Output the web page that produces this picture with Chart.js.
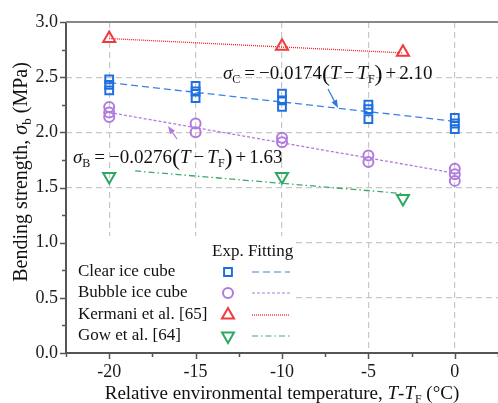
<!DOCTYPE html>
<html>
<head>
<meta charset="utf-8">
<script src="https://cdn.jsdelivr.net/npm/chart.js@4/dist/chart.umd.min.js"></script>
<style>
  html, body { margin: 0; padding: 0; background: #fff; }
</style>
</head>
<body>
<canvas id="grafico" width="498" height="403"></canvas>
<script>
// valores (T - TF em °C, resistencia em MPa)
const tempClear = [-20, -20, -20, -15, -15, -15, -10, -10, -10, -5, -5, -5, 0, 0, 0];
const clearIce = [2.48, 2.43, 2.38, 2.42, 2.37, 2.31, 2.35, 2.29, 2.23, 2.25, 2.21, 2.12, 2.13, 2.08, 2.03];
const tempBubble = [-20, -20, -20, -15, -15, -10, -10, -5, -5, 0, 0, 0];
const bubbleIce = [2.23, 2.18, 2.14, 2.08, 2.00, 1.95, 1.91, 1.79, 1.73, 1.67, 1.62, 1.56];
const tempRef = [-20, -10, -3];
const kermani = [2.85, 2.78, 2.725];
const gow = [1.60, 1.60, 1.40];

// pontas das retas de ajuste
const tempFit = [-20, 0];
const clearFit = [2.45, 2.10];
const bubbleFit = [2.18, 1.63];
const tempKermaniFit = [-20, -3];
const kermaniFit = [2.85, 2.72];
const tempGowFit = [-18.5, -3];
const gowFit = [1.65, 1.445];

// rotulos dos eixos
const xLabels = [-20, -15, -10, -5, 0];
const yLabels = [0, 0.5, 1.0, 1.5, 2.0, 2.5, 3.0];

const azul = '#1f6fe0', roxo = '#b07ade', vermelho = '#f03a3e', verde = '#2fa862';
const serif = '"Liberation Serif", "Times New Roman", serif';

function pontos(xs, ys) {
  return xs.map((x, i) => ({ x: x, y: ys[i] }));
}
function temValor(lista, v) {
  return lista.some(a => Math.abs(a - v) < 1e-6);
}

// escreve texto com partes em italico / subscrito
function escreve(ctx, x, y, partes, alinhar) {
  let largura = 0;
  partes.forEach(p => {
    if (p.g) { largura += p.g; return; }
    ctx.font = p.f;
    largura += ctx.measureText(p.t).width;
  });
  let cx = alinhar === 'center' ? x - largura / 2 : x;
  ctx.textAlign = 'left';
  ctx.textBaseline = 'alphabetic';
  partes.forEach(p => {
    if (p.g) { cx += p.g; return; }
    ctx.font = p.f;
    ctx.fillText(p.t, cx, y + (p.dy || 0));
    cx += ctx.measureText(p.t).width;
  });
}

function seta(ctx, x1, y1, x2, y2, cor) {
  const ang = Math.atan2(y2 - y1, x2 - x1);
  ctx.save();
  ctx.strokeStyle = cor;
  ctx.fillStyle = cor;
  ctx.lineWidth = 1.2;
  ctx.beginPath();
  ctx.moveTo(x1, y1);
  ctx.lineTo(x2 - Math.cos(ang) * 5, y2 - Math.sin(ang) * 5);
  ctx.stroke();
  ctx.beginPath();
  ctx.moveTo(x2, y2);
  ctx.lineTo(x2 - Math.cos(ang) * 8 + Math.sin(ang) * 3, y2 - Math.sin(ang) * 8 - Math.cos(ang) * 3);
  ctx.lineTo(x2 - Math.cos(ang) * 8 - Math.sin(ang) * 3, y2 - Math.sin(ang) * 8 + Math.cos(ang) * 3);
  ctx.closePath();
  ctx.fill();
  ctx.restore();
}

function marcador(ctx, tipo, x, y, cor) {
  ctx.save();
  ctx.strokeStyle = cor;
  ctx.lineWidth = 2;
  ctx.beginPath();
  if (tipo === 'rect') {
    ctx.rect(x - 3.9, y - 3.9, 7.8, 7.8);
  } else if (tipo === 'circle') {
    ctx.arc(x, y, 5, 0, Math.PI * 2);
  } else if (tipo === 'up') {
    ctx.moveTo(x, y - 7); ctx.lineTo(x + 6, y + 3.5); ctx.lineTo(x - 6, y + 3.5); ctx.closePath();
  } else {
    ctx.moveTo(x, y + 7); ctx.lineTo(x + 6, y - 3.5); ctx.lineTo(x - 6, y - 3.5); ctx.closePath();
  }
  ctx.stroke();
  ctx.restore();
}

function linha(ctx, x1, x2, y, cor, dash) {
  ctx.save();
  ctx.strokeStyle = cor;
  ctx.lineWidth = 1.2;
  ctx.setLineDash(dash);
  ctx.beginPath();
  ctx.moveTo(x1, y);
  ctx.lineTo(x2, y);
  ctx.stroke();
  ctx.restore();
}

const extras = {
  id: 'extras',
  beforeDatasetsDraw(chart) {
    // fundo branco da legenda por cima da grade
    const ctx = chart.ctx, a = chart.chartArea;
    ctx.save();
    ctx.fillStyle = '#fff';
    ctx.fillRect(a.left + 1, 236, 295 - a.left, a.bottom - 237);
    ctx.restore();
  },
  afterDatasetsDraw(chart) {
    const ctx = chart.ctx, a = chart.chartArea;
    const sx = chart.scales.x, sy = chart.scales.y;

    // eixos e marcas
    ctx.save();
    ctx.strokeStyle = '#555';
    ctx.lineWidth = 1.5;
    sx.ticks.forEach(t => {
      const px = Math.round(sx.getPixelForValue(t.value)) + 0.5;
      const len = temValor(xLabels, t.value) ? 6 : 4;
      ctx.beginPath(); ctx.moveTo(px, a.bottom); ctx.lineTo(px, a.bottom + len); ctx.stroke();
    });
    sy.ticks.forEach(t => {
      const py = Math.round(sy.getPixelForValue(t.value)) + 0.5;
      const len = temValor(yLabels, t.value) ? 6 : 4;
      ctx.beginPath(); ctx.moveTo(a.left - len, py); ctx.lineTo(a.left, py); ctx.stroke();
    });
    ctx.lineWidth = 2;
    ctx.beginPath();
    ctx.moveTo(a.left, a.top); ctx.lineTo(a.left, a.bottom); ctx.lineTo(a.right, a.bottom);
    ctx.stroke();
    ctx.strokeStyle = '#888';
    ctx.beginPath(); ctx.moveTo(a.left, a.top); ctx.lineTo(a.right, a.top); ctx.stroke();
    ctx.restore();

    // legenda
    ctx.save();
    ctx.fillStyle = '#111';
    ctx.font = '17px ' + serif;
    ctx.textBaseline = 'middle';
    ctx.textAlign = 'left';
    ctx.fillText('Exp. Fitting', 212, 252);
    const nomes = ['Clear ice cube', 'Bubble ice cube', 'Kermani et al. [65]', 'Gow et al. [64]'];
    const tipos = ['rect', 'circle', 'up', 'down'];
    const cores = [azul, roxo, vermelho, verde];
    const coresLinha = ['#3a82ea', roxo, '#f01c1c', '#3aaa6a'];
    const tracos = [[7, 4], [3, 2], [1, 1], [6, 3, 1.5, 3]];
    const linhasY = [272, 293, 315, 336];
    nomes.forEach((n, i) => {
      ctx.fillText(n, 78, linhasY[i]);
      marcador(ctx, tipos[i], 228, linhasY[i], cores[i]);
      linha(ctx, 252, 290, linhasY[i], coresLinha[i], tracos[i]);
    });
    ctx.restore();

    // equacoes
    const n = '19px ' + serif, it = 'italic 19px ' + serif, sub = '12px ' + serif, par = '24px ' + serif;
    ctx.save();
    ctx.fillStyle = '#111';
    escreve(ctx, 223, 79, [
      { t: 'σ', f: it }, { t: 'C', f: sub, dy: 4 }, { g: 4 }, { t: '=', f: n }, { g: 4 },
      { t: '−0.0174', f: n }, { t: '(', f: par, dy: 2 }, { t: 'T', f: it }, { g: 3 }, { t: '−', f: n }, { g: 3 },
      { t: 'T', f: it }, { t: 'F', f: sub, dy: 4 }, { t: ')', f: par, dy: 2 }, { g: 3 }, { t: '+', f: n }, { g: 3 },
      { t: '2.10', f: n }
    ]);
    escreve(ctx, 73, 163, [
      { t: 'σ', f: it }, { t: 'B', f: sub, dy: 4 }, { g: 4 }, { t: '=', f: n }, { g: 4 },
      { t: '−0.0276', f: n }, { t: '(', f: par, dy: 2 }, { t: 'T', f: it }, { g: 3 }, { t: '−', f: n }, { g: 3 },
      { t: 'T', f: it }, { t: 'F', f: sub, dy: 4 }, { t: ')', f: par, dy: 2 }, { g: 3 }, { t: '+', f: n }, { g: 3 },
      { t: '1.63', f: n }
    ]);
    ctx.restore();
    seta(ctx, 328, 89, 338, 108, '#2a78e0');
    seta(ctx, 177, 139, 168, 126, roxo);
  },
  afterDraw(chart) {
    const ctx = chart.ctx, a = chart.chartArea;
    const n = '19px ' + serif, it = 'italic 19px ' + serif, sub = '12px ' + serif;
    ctx.save();
    ctx.fillStyle = '#111';
    escreve(ctx, (a.left + a.right) / 2, 399, [
      { t: 'Relative environmental temperature, ', f: n }, { t: 'T', f: it }, { t: '-', f: n },
      { t: 'T', f: it }, { t: 'F', f: sub, dy: 4 }, { t: ' (°C)', f: n }
    ], 'center');
    ctx.translate(21, 172);
    ctx.rotate(-Math.PI / 2);
    const ny = '20px ' + serif, iy = 'italic 20px ' + serif, sy = '13px ' + serif;
    escreve(ctx, 0, 6, [
      { t: 'Bending strength, ', f: ny }, { t: 'σ', f: iy }, { t: 'b', f: sy, dy: 4 }, { t: ' (MPa)', f: ny }
    ], 'center');
    ctx.restore();
  }
};

const ctx = document.getElementById('grafico').getContext('2d');
const grafico = new Chart(ctx, {
  type: 'scatter',
  data: {
    datasets: [
      { label: 'Clear ice cube', data: pontos(tempClear, clearIce), pointStyle: 'rect', pointRadius: 5.5,
        borderColor: azul, backgroundColor: 'rgba(0,0,0,0)', pointBorderWidth: 2 },
      { label: 'Bubble ice cube', data: pontos(tempBubble, bubbleIce), pointStyle: 'circle', pointRadius: 5,
        borderColor: roxo, backgroundColor: 'rgba(0,0,0,0)', pointBorderWidth: 2 },
      { label: 'Kermani et al. [65]', data: pontos(tempRef, kermani), pointStyle: 'triangle', pointRadius: 7,
        borderColor: vermelho, backgroundColor: 'rgba(0,0,0,0)', pointBorderWidth: 2 },
      { label: 'Gow et al. [64]', data: pontos(tempRef, gow), pointStyle: 'triangle', pointRotation: 180, pointRadius: 7,
        borderColor: verde, backgroundColor: 'rgba(0,0,0,0)', pointBorderWidth: 2 },
      { label: 'fit clear', data: pontos(tempFit, clearFit), showLine: true, pointRadius: 0,
        borderColor: '#3a82ea', borderWidth: 1.3, borderDash: [7, 4] },
      { label: 'fit bubble', data: pontos(tempFit, bubbleFit), showLine: true, pointRadius: 0,
        borderColor: roxo, borderWidth: 1.3, borderDash: [3, 2] },
      { label: 'fit kermani', data: pontos(tempKermaniFit, kermaniFit), showLine: true, pointRadius: 0,
        borderColor: '#f01c1c', borderWidth: 1.3, borderDash: [1, 1] },
      { label: 'fit gow', data: pontos(tempGowFit, gowFit), showLine: true, pointRadius: 0,
        borderColor: '#3aaa6a', borderWidth: 1.3, borderDash: [6, 3, 1.5, 3] }
    ]
  },
  options: {
    responsive: false,
    animation: false,
    devicePixelRatio: 1,
    layout: { autoPadding: false, padding: { top: 22, right: 0, left: 0, bottom: 0 } },
    plugins: { legend: { display: false }, tooltip: { enabled: false } },
    scales: {
      x: {
        type: 'linear', min: -22.5, max: 2.5,
        ticks: {
          stepSize: 2.5, autoSkip: false, maxRotation: 0, padding: 8,
          color: '#1a1a1a', font: { family: serif, size: 18 },
          callback: v => temValor(xLabels, v) ? String(v) : ''
        },
        grid: {
          drawTicks: false, lineWidth: 1.2,
          color: c => (c.tick && temValor(xLabels, c.tick.value)) ? '#c8c8c8' : 'rgba(0,0,0,0)'
        },
        border: { display: false, dash: [6, 4] },
        afterFit: s => { s.height = 50; s.paddingRight = 0; s.paddingLeft = 0; }
      },
      y: {
        min: 0, max: 3,
        ticks: {
          stepSize: 0.25, autoSkip: false, padding: 8,
          color: '#1a1a1a', font: { family: serif, size: 18 },
          callback: v => temValor(yLabels, v) ? v.toFixed(1) : ''
        },
        grid: {
          drawTicks: false, lineWidth: 1.2,
          color: c => (c.tick && temValor(yLabels, c.tick.value) && c.tick.value > 0 && c.tick.value < 3) ? '#c8c8c8' : 'rgba(0,0,0,0)'
        },
        border: { display: false, dash: [6, 4] },
        afterFit: s => { s.width = 66; }
      }
    }
  },
  plugins: [extras]
});
</script>
</body>
</html>
